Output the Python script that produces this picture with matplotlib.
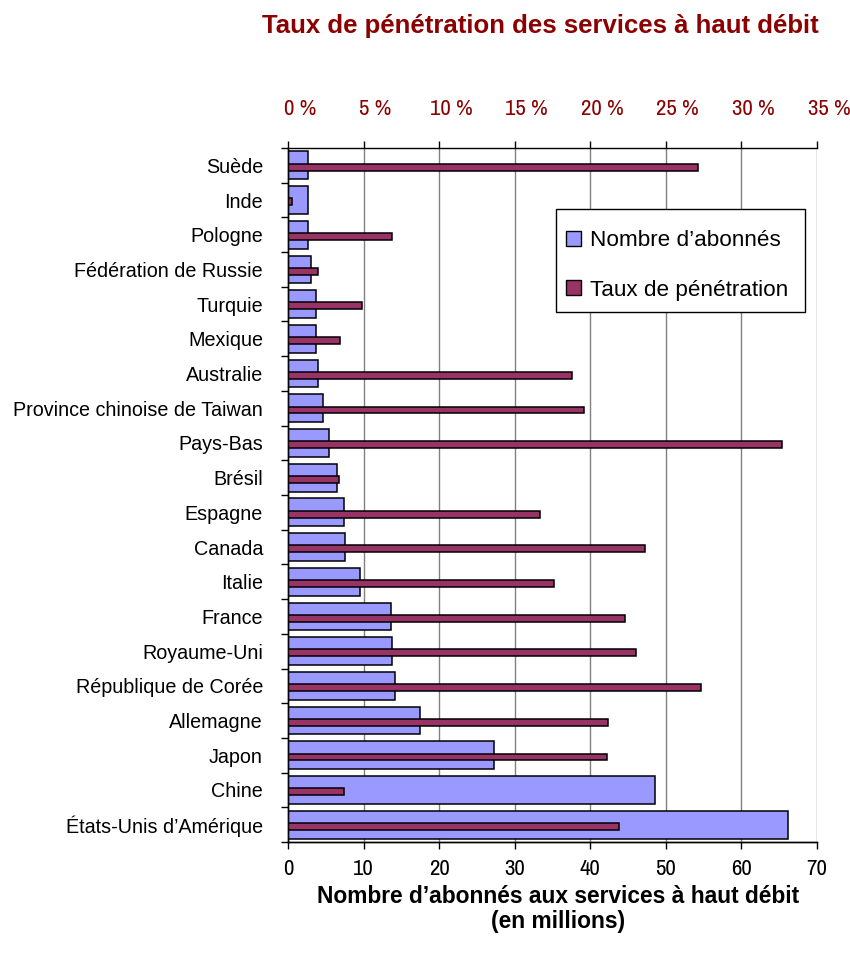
import matplotlib
matplotlib.use("Agg")
import matplotlib.pyplot as plt
import matplotlib.transforms as mtransforms
from matplotlib.patches import Patch, Rectangle
from matplotlib import font_manager
import numpy as np

countries = ["Suède", "Inde", "Pologne", "Fédération de Russie", "Turquie", "Mexique",
             "Australie", "Province chinoise de Taiwan", "Pays-Bas", "Brésil", "Espagne",
             "Canada", "Italie", "France", "Royaume-Uni", "République de Corée",
             "Allemagne", "Japon", "Chine", "États-Unis d’Amérique"]
abonnes = [2.6, 2.6, 2.6, 3.0, 3.7, 3.7, 4.0, 4.6, 5.4, 6.5, 7.4, 7.6, 9.5, 13.6, 13.8,
           14.1, 17.5, 27.2, 48.5, 66.2]
taux = [27.1, 0.25, 6.9, 2.0, 4.9, 3.45, 18.8, 19.6, 32.7, 3.35, 16.7, 23.6, 17.6, 22.3,
        23.05, 27.3, 21.2, 21.1, 3.7, 21.9]
x_ticks = [0, 10, 20, 30, 40, 50, 60, 70]
pct_ticks = [0, 5, 10, 15, 20, 25, 30, 35]

title = "Taux de pénétration des services à haut débit"
xlabel = "Nombre d’abonnés aux services à haut débit\n(en millions)"
leg_labels = ["Nombre d’abonnés", "Taux de pénétration"]

BLUE = "#9999FF"
MAROON = "#993366"
DARKRED = "#8B0000"
TXTFONT = ["Liberation Sans", "DejaVu Sans"]

names = {f.name for f in font_manager.fontManager.ttflist}
narrow_candidates = [n for n in names if "Narrow" in n or "Condensed" in n]
if "Liberation Sans Narrow" in names:
    NUMPROPS = dict(family="Liberation Sans Narrow", fontsize=16.5)
elif narrow_candidates:
    NUMPROPS = dict(family=sorted(narrow_candidates)[0], fontsize=16.5)
else:
    NUMPROPS = dict(family="DejaVu Sans", fontstretch="condensed", fontsize=14)

fig = plt.figure(figsize=(8.5, 9.63), dpi=100)
ax = fig.add_axes([288/850, 1-842/963, (817-288)/850, (842-148)/963])
ax2 = ax.twiny()

y = np.arange(len(countries))
ax.barh(y, abonnes, height=0.8, color=BLUE, edgecolor="black", linewidth=1.1, zorder=2)
ax2.barh(y + 0.05, taux, height=0.2, color=MAROON, edgecolor="black", linewidth=1.1, zorder=2)

ax.set_xlim(0, 70)
ax2.set_xlim(0, 35)
ax.set_ylim(len(countries) - 0.5, -0.5)

for v in x_ticks[1:]:
    ax.axvline(v, color="#808080", linewidth=1.0, zorder=1)

ax.set_axisbelow(True)
ax.spines["right"].set_visible(False)
ax2.spines["right"].set_visible(False)
ax.spines["top"].set_visible(False)
for a in (ax, ax2):
    for sp in a.spines.values():
        sp.set_linewidth(1.0)
        sp.set_color("black")

ax.set_xticks(x_ticks)
ax.set_xticklabels([str(v) for v in x_ticks], **NUMPROPS)
ax.tick_params(axis="x", direction="out", length=5, width=1, pad=7)

ax2.set_xticks(pct_ticks)
ax2.set_xticklabels([f"{v} %" for v in pct_ticks], color=DARKRED, **NUMPROPS)
ax2.tick_params(axis="x", direction="out", length=5, width=1, pad=16)
offset = mtransforms.ScaledTranslation(12/100, 0, fig.dpi_scale_trans)
for lab in ax2.get_xticklabels():
    lab.set_transform(lab.get_transform() + offset)

ax.set_yticks(y)
ax.set_yticklabels(countries, family=TXTFONT, fontsize=14.2)
ax.tick_params(axis="y", which="major", length=0, pad=18)
ax.set_yticks(np.arange(-0.5, len(countries) + 0.5, 1), minor=True)
ax.tick_params(axis="y", which="minor", length=5, width=1, direction="out")

fig.text(540/850, 1-26/963, title, ha="center", va="center", fontsize=18.5,
         fontweight="bold", color=DARKRED, family=TXTFONT)
fig.text(558/850, 1-909/963, xlabel, ha="center", va="center", fontsize=16.4,
         fontweight="bold", color="black", family=TXTFONT, linespacing=1.1)

# legend box
def ax_xy(px, py):
    return ((px - 288) / 529, 1 - (py - 148) / 694)

x0, y0 = ax_xy(556, 312)
x1, y1 = ax_xy(805, 209)
box = Rectangle((x0, y0), x1 - x0, y1 - y0, transform=ax2.transAxes, facecolor="white",
                edgecolor="black", linewidth=1.0, zorder=5)
ax2.add_patch(box)

handles = [Patch(facecolor=BLUE, edgecolor="black", linewidth=1.0),
           Patch(facecolor=MAROON, edgecolor="black", linewidth=1.0)]
leg = ax2.legend(handles, leg_labels, loc="upper left",
                 bbox_to_anchor=ax_xy(566, 230),
                 prop={"family": TXTFONT, "size": 16.2}, frameon=False,
                 handlelength=0.65, handleheight=0.65,
                 handletextpad=0.4, labelspacing=1.28, borderpad=0, borderaxespad=0)
leg.set_zorder(6)

fig.savefig("out.png", dpi=100)
